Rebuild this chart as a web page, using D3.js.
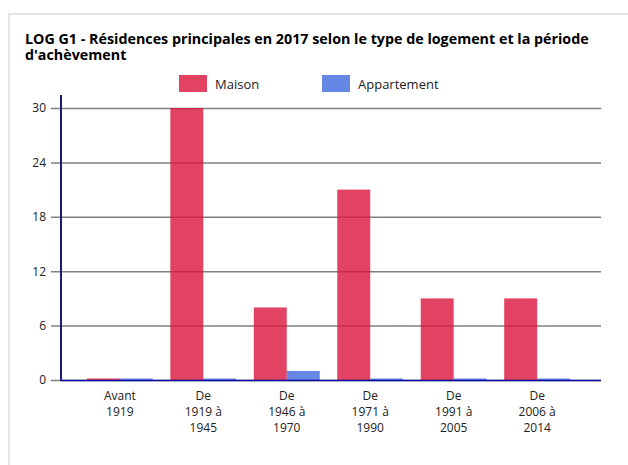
<!DOCTYPE html>
<html>
<head>
<meta charset="utf-8">
<script src="https://cdn.jsdelivr.net/npm/d3@7"></script>
<style>
  body { margin: 0; background: #fff; font-family: 'Open Sans', sans-serif; }
  svg text { font-family: 'Open Sans', sans-serif; }
</style>
</head>
<body>
<main></main>
<script>
'use strict'

var categories = [['Avant', '1919'], ['De', '1919 à', '1945'], ['De', '1946 à', '1970'],
                  ['De', '1971 à', '1990'], ['De', '1991 à', '2005'], ['De', '2006 à', '2014']]
var seriesNames = ['Maison', 'Appartement']
var maison      = [0, 30, 8, 21, 9, 9]
var appartement = [0, 0, 1, 0, 0, 0]
var yTicks      = [0, 6, 12, 18, 24, 30]
var titleLines  = ['LOG G1 - Résidences principales en 2017 selon le type de logement et la période', "d'achèvement"]
var colors      = ['#dc143c', '#4169e1']

var width = 628, height = 465
var plot = { left: 61, right: 601, top: 108, bottom: 380 }

var svg = d3.select('main').append('svg')
  .attr('width', width)
  .attr('height', height)

// card frame
svg.append('rect')
  .attr('x', 9).attr('y', 14)
  .attr('width', 640).attr('height', 470)
  .attr('fill', '#fff')
  .attr('stroke', '#e4e4e4')
  .attr('stroke-width', 2)

svg.selectAll('.title')
  .data(titleLines)
  .enter().append('text')
  .attr('x', 25)
  .attr('y', function (d, i) { return 44 + i * 16 })
  .attr('font-size', 14.3).attr('font-weight', 'bold').attr('fill', '#000')
  .text(function (d) { return d })

// legend
var legendX = [179, 322]
var legend = svg.selectAll('.legend')
  .data(seriesNames)
  .enter().append('g')
  .attr('transform', function (d, i) { return 'translate(' + legendX[i] + ',75)' })
legend.append('rect')
  .attr('width', 28).attr('height', 17)
  .attr('fill', function (d, i) { return colors[i] })
  .attr('opacity', 0.8)
legend.append('text')
  .attr('x', 36).attr('y', 14)
  .attr('font-size', 13).attr('fill', '#222')
  .text(function (d) { return d })

var x = d3.scaleBand()
  .domain(d3.range(categories.length))
  .range([plot.left, 596])
  .paddingInner(0.21)
  .paddingOuter(0.31)

var x1 = d3.scaleBand()
  .domain(d3.range(seriesNames.length))
  .range([0, x.bandwidth()])

var y = d3.scaleLinear()
  .domain([0, 30])
  .range([plot.bottom, plot.top])

// y axis with gridlines
var yAxis = svg.append('g')
  .attr('transform', 'translate(' + plot.left + ',0)')
  .call(d3.axisLeft(y).tickValues(yTicks).tickSize(-(plot.right - plot.left)).tickPadding(15))
yAxis.select('.domain').remove()
yAxis.selectAll('.tick line')
  .attr('x1', -10)
  .attr('stroke', '#808080')
  .attr('stroke-width', 1.5)
yAxis.selectAll('.tick text')
  .attr('font-size', 12).attr('fill', '#222')
  .attr('font-family', "'Open Sans', sans-serif")

// bars (drawn on top of gridlines, semi-transparent)
var series = [maison, appartement]
var groups = svg.selectAll('.grp')
  .data(categories)
  .enter().append('g')
  .attr('transform', function (d, i) { return 'translate(' + x(i) + ',0)' })

groups.selectAll('rect')
  .data(function (d, i) { return series.map(function (s, k) { return { k: k, v: s[i] } }) })
  .enter().append('rect')
  .attr('x', function (d) { return x1(d.k) })
  .attr('width', x1.bandwidth())
  .attr('y', function (d) { return Math.min(y(d.v), y(0) - 1.5) })
  .attr('height', function (d) { return Math.max(y(0) - y(d.v), 1.5) })
  .attr('fill', function (d) { return colors[d.k] })
  .attr('opacity', 0.8)

// axis lines
svg.append('line')
  .attr('x1', plot.left).attr('x2', plot.left)
  .attr('y1', 95).attr('y2', plot.bottom + 1)
  .attr('stroke', '#1a1a80').attr('stroke-width', 2)
svg.append('line')
  .attr('x1', plot.left).attr('x2', plot.right)
  .attr('y1', plot.bottom + 0.5).attr('y2', plot.bottom + 0.5)
  .attr('stroke', '#0a0aa0').attr('stroke-width', 1.5)

// x labels
var xl = svg.selectAll('.xl')
  .data(categories)
  .enter().append('text')
  .attr('text-anchor', 'middle')
  .attr('font-size', 12).attr('fill', '#222')
  .attr('y', 400)
xl.selectAll('tspan')
  .data(function (d) { return d })
  .enter().append('tspan')
  .attr('dy', function (d, i) { return i === 0 ? 0 : 16 })
  .text(function (d) { return d })
xl.each(function (d, i) {
  d3.select(this).selectAll('tspan').attr('x', x(i) + x.bandwidth() / 2)
})
</script>
</body>
</html>
